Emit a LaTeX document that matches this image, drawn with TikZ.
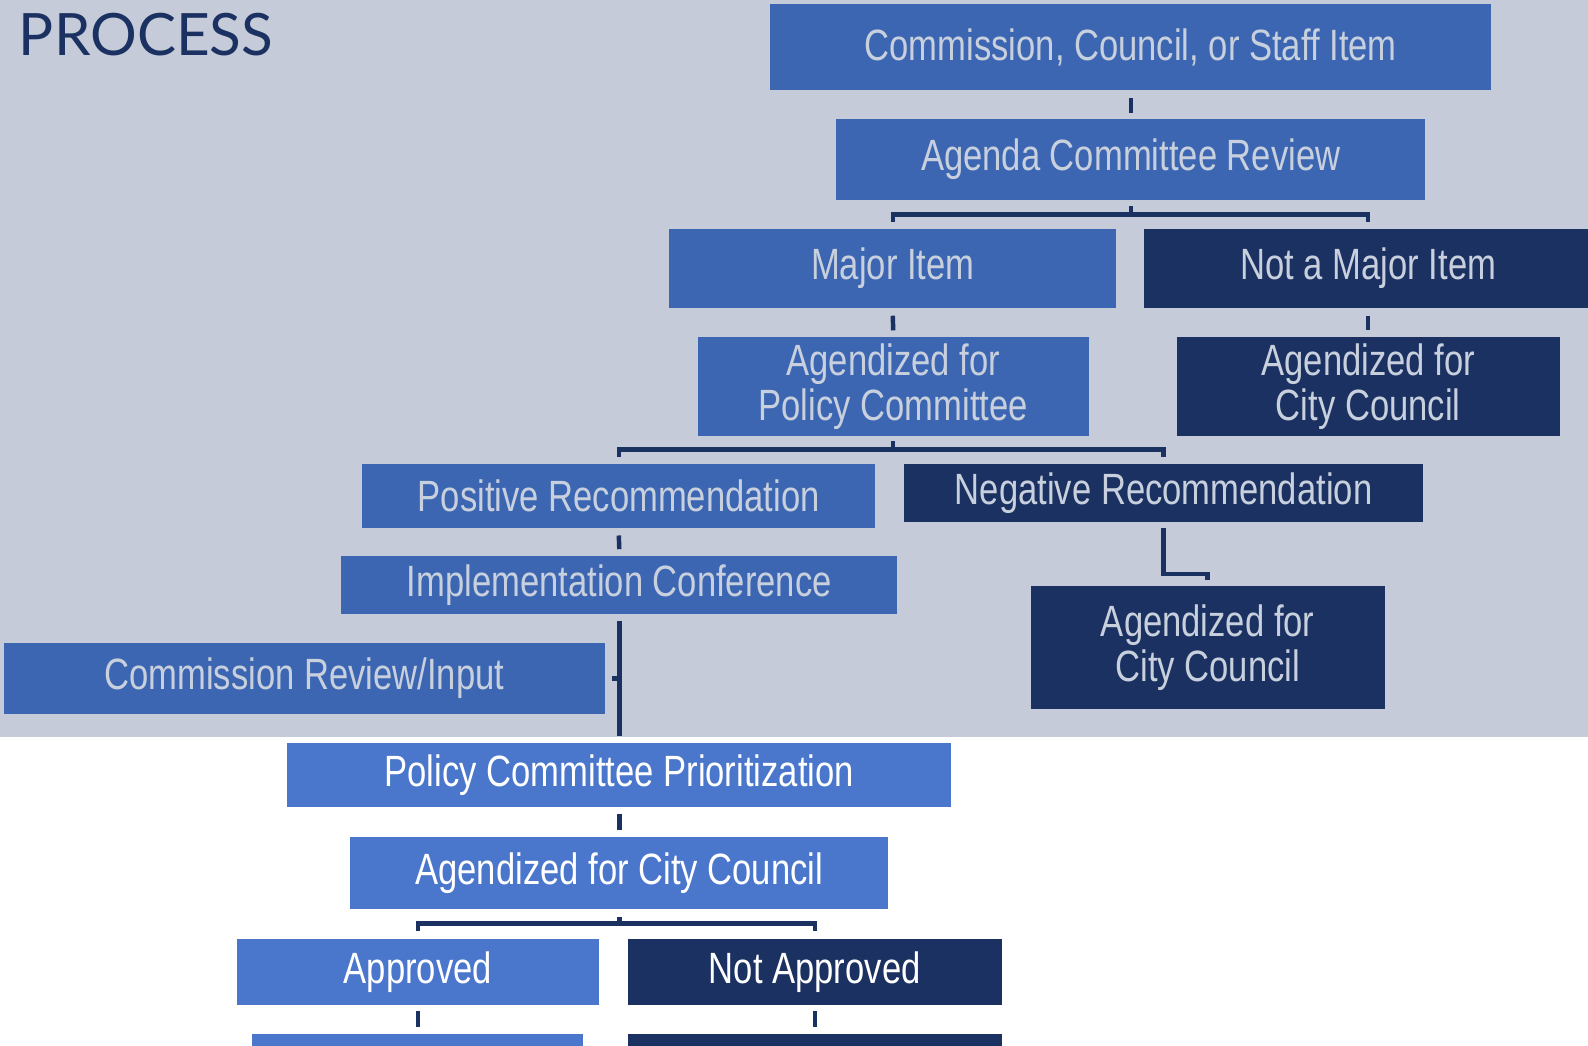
\documentclass[tikz,border=0pt]{standalone}
\usepackage{fontspec}
\usetikzlibrary{positioning}

\newfontfamily\narrowsans[FakeStretch=0.79]{Liberation Sans}
\newfontfamily\titlefont{Lato}

\definecolor{bggray}{HTML}{C5CBD8}
\definecolor{midblue}{HTML}{3C66B2}
\definecolor{brightblue}{HTML}{4A77CC}
\definecolor{navy}{HTML}{1B3161}
\definecolor{paletext}{HTML}{C8D0DD}

\begin{document}
\begin{tikzpicture}[
    x=0.01cm, y=-0.01cm,
    stepnode/.style={rectangle, inner sep=0pt, align=center, font=\narrowsans\fontsize{12.3}{12.6}\selectfont},
    upperbox/.style={stepnode, fill=midblue, text=paletext},
    upperdark/.style={stepnode, fill=navy, text=paletext},
    lowerbox/.style={stepnode, fill=brightblue, text=white},
    lowerdark/.style={stepnode, fill=navy, text=white},
    link/.style={draw=navy, line width=1.25pt}
]
\clip (0,0) rectangle (1568,1032);
\fill[white] (0,0) rectangle (1568,1032);
\fill[bggray] (0,0) rectangle (1568,727.5);

% Title
\node[anchor=base west, inner sep=0pt, text=navy, font=\titlefont\fontsize{16.4}{20}\selectfont] (title) at (18,55) {PROCESS};

% Nodes
\node[upperbox, minimum width=7.11cm, minimum height=0.85cm]  (staffitem)      at (1116.5,46.5)  {Commission, Council, or Staff Item};
\node[upperbox, minimum width=5.81cm, minimum height=0.79cm]  (agenda)         at (1116.5,157.5) {Agenda Committee Review};
\node[upperbox, minimum width=4.41cm, minimum height=0.78cm]  (major)          at (881.5,265)    {Major Item};
\node[upperdark, minimum width=4.42cm, minimum height=0.78cm] (notmajor)       at (1351,265)     {Not a Major Item};
\node[upperbox, minimum width=3.86cm, minimum height=0.97cm]  (polcom)         at (882,381.5)    {Agendized for\\Policy Committee};
\node[upperdark, minimum width=3.78cm, minimum height=0.97cm] (ccright)        at (1351,381.5)   {Agendized for\\City Council};
\node[upperbox, minimum width=5.06cm, minimum height=0.63cm]  (positive)       at (611,489.5)    {Positive Recommendation};
\node[upperdark, minimum width=5.12cm, minimum height=0.57cm] (negative)       at (1149,486.5)   {Negative Recommendation};
\node[upperbox, minimum width=5.49cm, minimum height=0.57cm]  (implconf)       at (611.5,577.5)  {Implementation Conference};
\node[upperdark, minimum width=3.49cm, minimum height=1.21cm] (ccmid)          at (1192.5,639.5) {Agendized for\\City Council};
\node[upperbox, minimum width=5.93cm, minimum height=0.70cm]  (commreview)     at (300.5,670)    {Commission Review/Input};
\node[lowerbox, minimum width=6.55cm, minimum height=0.63cm]  (prioritization) at (611.5,765.5)  {Policy Committee Prioritization};
\node[lowerbox, minimum width=5.31cm, minimum height=0.72cm]  (ccbottom)       at (611.5,862)    {Agendized for City Council};
\node[lowerbox, minimum width=3.57cm, minimum height=0.65cm]  (approved)       at (412.5,959.5)  {Approved};
\node[lowerdark, minimum width=3.69cm, minimum height=0.65cm] (notapproved)    at (804.5,959.5)  {Not Approved};
\node[lowerbox, minimum width=3.27cm, minimum height=0.60cm]  (nextleft)       at (412.5,1051)   {};
\node[lowerdark, minimum width=3.69cm, minimum height=0.60cm] (nextright)      at (804.5,1051)   {};

% Connectors
\coordinate (splitA) at (1116.5,212);
\coordinate (splitB) at (882,444);
\coordinate (splitC) at (611.5,912);
\draw[link] ([yshift=-0.07cm]staffitem.south) -- ([yshift=0.06cm]agenda.north);
\draw[link] ([yshift=-0.06cm]agenda.south) -- (splitA);
\draw[link] ([yshift=0.06cm]major.north) |- (splitA) -| ([yshift=0.06cm]notmajor.north);
\draw[link] ([yshift=-0.07cm]major.south) -- ([yshift=0.06cm]polcom.north);
\draw[link] ([yshift=-0.07cm]notmajor.south) -- ([yshift=0.06cm]ccright.north);
\draw[link] ([yshift=-0.05cm]polcom.south) -- (splitB);
\draw[link] ([yshift=0.06cm]positive.north) |- (splitB) -| ([yshift=0.06cm]negative.north);
\draw[link] ([yshift=-0.07cm]positive.south) -- ([yshift=0.06cm]implconf.north);
\draw[link] ([yshift=-0.06cm]negative.south) -- ++(0,45) -| ([yshift=0.06cm]ccmid.north);
\draw[link] ([yshift=-0.06cm]implconf.south) -- ([yshift=0.07cm]prioritization.north);
\draw[link] ([xshift=0.06cm]commreview.east) -- (commreview.east -| implconf.south);
\draw[link] ([yshift=-0.06cm]prioritization.south) -- ([yshift=0.06cm]ccbottom.north);
\draw[link] ([yshift=-0.07cm]ccbottom.south) -- (splitC);
\draw[link] ([yshift=0.07cm]approved.north) |- (splitC) -| ([yshift=0.07cm]notapproved.north);
\draw[link] ([yshift=-0.06cm]approved.south) -- ([yshift=0.06cm]nextleft.north);
\draw[link] ([yshift=-0.06cm]notapproved.south) -- ([yshift=0.06cm]nextright.north);

\end{tikzpicture}
\end{document}
